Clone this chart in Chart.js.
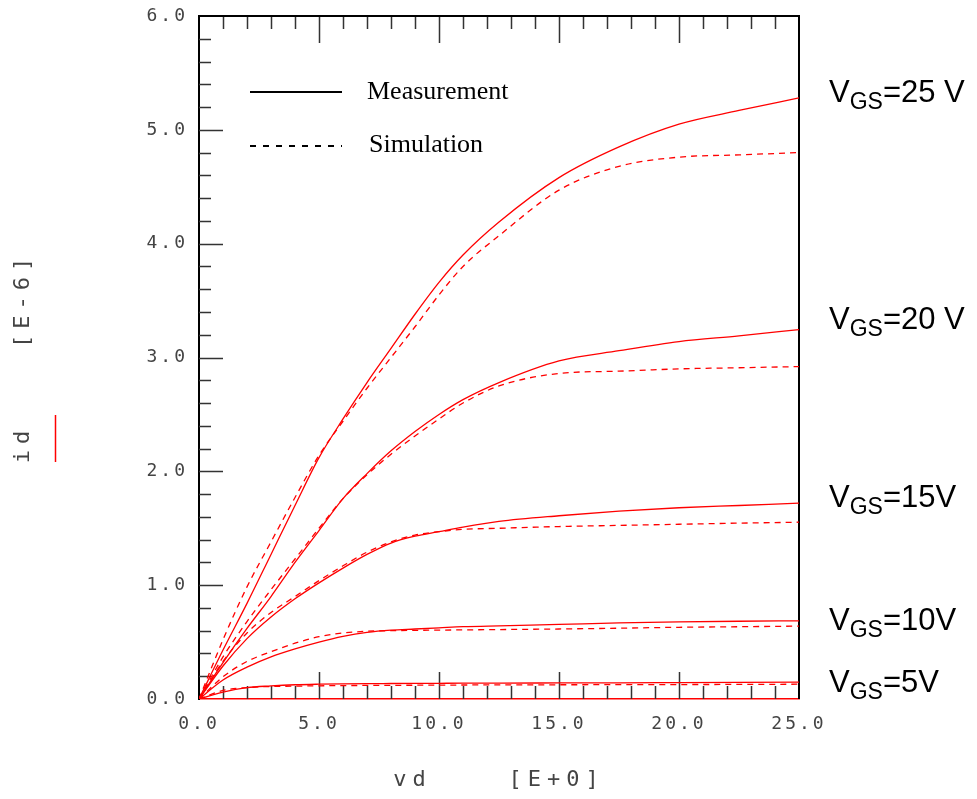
<!DOCTYPE html>
<html>
<head>
<meta charset="utf-8">
<script src="https://cdn.jsdelivr.net/npm/chart.js@4.4.1/dist/chart.umd.min.js"></script>
<style>
  body { margin: 0; background: #fff; }
  canvas { display: block; }
</style>
</head>
<body>
<canvas id="myChart" width="977" height="799"></canvas>
<script>
// drain voltage points (V)
var vd = [0, 1, 2, 3, 4, 5, 6, 7, 8, 9, 10, 11, 12.5, 15, 17.5, 20, 22.5, 25];

// drain current, units of 1e-6 A
var meas5  = [0, 0.06, 0.10, 0.115, 0.125, 0.13, 0.133, 0.135, 0.136, 0.137, 0.138, 0.139, 0.14, 0.141, 0.142, 0.144, 0.146, 0.148];
var sim5   = [0, 0.075, 0.10, 0.11, 0.113, 0.116, 0.118, 0.119, 0.12, 0.121, 0.122, 0.123, 0.124, 0.125, 0.126, 0.127, 0.128, 0.13];
var meas10 = [0, 0.167, 0.28, 0.37, 0.44, 0.50, 0.55, 0.585, 0.605, 0.615, 0.625, 0.635, 0.643, 0.655, 0.668, 0.677, 0.683, 0.687];
var sim10  = [0, 0.195, 0.33, 0.415, 0.49, 0.547, 0.58, 0.595, 0.60, 0.603, 0.605, 0.607, 0.61, 0.615, 0.622, 0.63, 0.635, 0.64];
var meas15 = [0, 0.29, 0.53, 0.72, 0.88, 1.02, 1.15, 1.27, 1.37, 1.43, 1.47, 1.51, 1.56, 1.61, 1.65, 1.68, 1.70, 1.72];
var sim15  = [0, 0.33, 0.58, 0.76, 0.90, 1.04, 1.17, 1.29, 1.38, 1.44, 1.47, 1.49, 1.50, 1.515, 1.525, 1.535, 1.545, 1.553];
var meas20 = [0, 0.32, 0.62, 0.90, 1.20, 1.48, 1.76, 1.98, 2.18, 2.35, 2.50, 2.63, 2.78, 2.97, 3.06, 3.14, 3.19, 3.245];
var sim20  = [0, 0.37, 0.68, 0.96, 1.23, 1.50, 1.76, 1.97, 2.15, 2.31, 2.46, 2.60, 2.75, 2.86, 2.88, 2.90, 2.91, 2.92];
var meas25 = [0, 0.43, 0.84, 1.27, 1.70, 2.12, 2.46, 2.78, 3.08, 3.38, 3.66, 3.90, 4.19, 4.58, 4.85, 5.05, 5.17, 5.28];
var sim25  = [0, 0.52, 0.985, 1.38, 1.77, 2.14, 2.44, 2.73, 3.00, 3.27, 3.55, 3.80, 4.07, 4.47, 4.68, 4.76, 4.78, 4.80];

var vgsTexts = ['=5V', '=10V', '=15V', '=20 V', '=25 V'];
var measSets = [meas5, meas10, meas15, meas20, meas25];
var simSets = [sim5, sim10, sim15, sim20, sim25];

var legendNames = ['Measurement', 'Simulation'];
var xTitle = 'vd    [E+0]';
var yTitle = 'id    [E-6]';

function toPoints(arr) {
  return arr.map(function (v, i) { return { x: vd[i], y: v }; });
}

var datasets = [];
for (var i = 0; i < measSets.length; i++) {
  datasets.push({
    label: 'meas' + i,
    data: toPoints(measSets[i]),
    borderColor: '#ff0000',
    borderWidth: 1.3,
    pointRadius: 0,
    fill: false,
    cubicInterpolationMode: 'monotone'
  });
  datasets.push({
    label: 'sim' + i,
    data: toPoints(simSets[i]),
    borderColor: '#ff0000',
    borderWidth: 1.3,
    borderDash: [6, 5],
    pointRadius: 0,
    fill: false,
    cubicInterpolationMode: 'monotone'
  });
}

// nudges (px) of the VGS labels from the end of each measured curve
var labelNudge = [10, 9, 4, -1, 4];

var decor = {
  id: 'decor',
  beforeDraw: function (chart) {
    chart.ctx.letterSpacing = '3px';
  },
  beforeDatasetsDraw: function (chart) {
    var ctx = chart.ctx;
    ctx.letterSpacing = '0px';
    var a = chart.chartArea;
    var xs = chart.scales.x, ys = chart.scales.y;
    ctx.save();
    ctx.strokeStyle = '#333';
    ctx.lineWidth = 1.5;
    ctx.beginPath();
    for (var v = 1; v < 25; v++) {
      var px = Math.round(xs.getPixelForValue(v)) + 0.5;
      var len = v % 5 === 0 ? 27 : 13;
      ctx.moveTo(px, a.bottom); ctx.lineTo(px, a.bottom - len);
      ctx.moveTo(px, a.top); ctx.lineTo(px, a.top + len);
    }
    for (var k = 1; k < 30; k++) {
      var py = Math.round(ys.getPixelForValue(k * 0.2)) + 0.5;
      var l2 = k % 5 === 0 ? 24 : 12;
      ctx.moveTo(a.left, py); ctx.lineTo(a.left + l2, py);
    }
    ctx.stroke();
    // top and right frame
    ctx.strokeStyle = '#000';
    ctx.lineWidth = 2;
    ctx.beginPath();
    ctx.moveTo(a.left, a.top); ctx.lineTo(a.right, a.top); ctx.lineTo(a.right, a.bottom);
    ctx.stroke();
    ctx.restore();
  },
  afterDraw: function (chart) {
    var ctx = chart.ctx;
    var a = chart.chartArea;
    var ys = chart.scales.y;
    ctx.save();

    // legend
    ctx.strokeStyle = '#000';
    ctx.lineWidth = 2;
    ctx.beginPath();
    ctx.moveTo(250, 92); ctx.lineTo(342, 92);
    ctx.stroke();
    ctx.setLineDash([6, 7]);
    ctx.beginPath();
    ctx.moveTo(250, 146); ctx.lineTo(342, 146);
    ctx.stroke();
    ctx.setLineDash([]);
    ctx.fillStyle = '#000';
    ctx.font = '26px "Liberation Serif"';
    ctx.textBaseline = 'alphabetic';
    ctx.textAlign = 'left';
    ctx.fillText(legendNames[0], 367, 99);
    ctx.fillText(legendNames[1], 369, 152);

    // VGS labels
    for (var i = 0; i < measSets.length; i++) {
      var last = measSets[i][measSets[i].length - 1];
      var by = ys.getPixelForValue(last) + labelNudge[i];
      var x0 = a.right + 30;
      ctx.font = '31px "Liberation Sans"';
      ctx.fillText('V', x0, by);
      var w = ctx.measureText('V').width;
      ctx.font = '23px "Liberation Sans"';
      ctx.fillText('GS', x0 + w, by + 7);
      var w2 = ctx.measureText('GS').width;
      ctx.font = '31px "Liberation Sans"';
      ctx.fillText(vgsTexts[i], x0 + w + w2, by);
    }

    // axis titles
    ctx.fillStyle = '#444';
    ctx.font = '22px "DejaVu Sans Mono"';
    ctx.letterSpacing = '6px';
    ctx.textAlign = 'center';
    ctx.textBaseline = 'middle';
    ctx.fillText(xTitle, (a.left + a.right) / 2, 780);
    ctx.save();
    ctx.translate(23, (a.top + a.bottom) / 2);
    ctx.rotate(-Math.PI / 2);
    ctx.fillText(yTitle, 0, 0);
    ctx.restore();
    ctx.letterSpacing = '0px';

    // series swatch next to the y title
    ctx.strokeStyle = '#ff0000';
    ctx.lineWidth = 1.5;
    ctx.beginPath();
    ctx.moveTo(55.5, 415); ctx.lineTo(55.5, 462);
    ctx.stroke();
    ctx.restore();
  }
};

var myChart = new Chart(document.getElementById('myChart').getContext('2d'), {
  type: 'line',
  data: { datasets: datasets },
  options: {
    responsive: false,
    animation: false,
    layout: { padding: { left: 129, right: 178, top: 16, bottom: 0 } },
    plugins: { legend: { display: false }, tooltip: { enabled: false } },
    scales: {
      x: {
        type: 'linear',
        min: 0,
        max: 25,
        afterFit: function (s) { s.height = 100; s.paddingLeft = 0; s.paddingRight = 0; },
        grid: { display: false, drawTicks: false },
        border: { display: true, color: '#ff0000', width: 1.5 },
        ticks: {
          stepSize: 5,
          padding: 15,
          color: '#444',
          font: { family: 'DejaVu Sans Mono', size: 18 },
          maxRotation: 0,
          callback: function (v) { return v.toFixed(1); }
        }
      },
      y: {
        type: 'linear',
        min: 0,
        max: 6,
        afterFit: function (s) { s.width = 70; s.paddingTop = 0; s.paddingBottom = 0; },
        grid: { display: false, drawTicks: false },
        border: { display: true, color: '#000', width: 2 },
        ticks: {
          stepSize: 1,
          padding: 11,
          color: '#444',
          font: { family: 'DejaVu Sans Mono', size: 18 },
          callback: function (v) { return v.toFixed(1); }
        }
      }
    }
  },
  plugins: [decor]
});
</script>
</body>
</html>
